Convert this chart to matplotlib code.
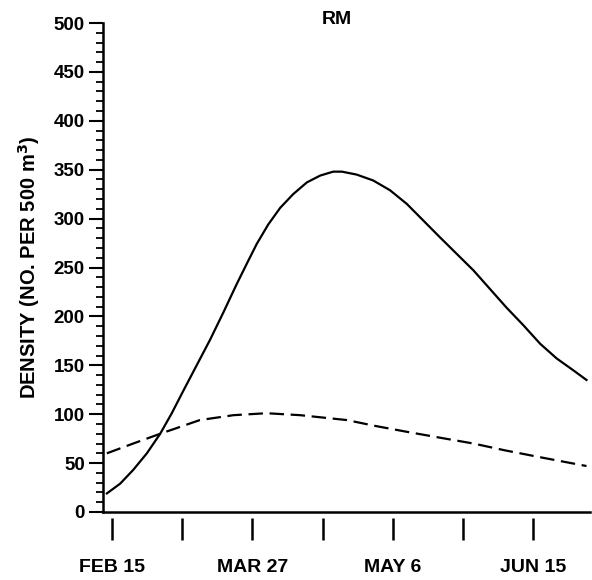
import matplotlib
matplotlib.use("Agg")
import matplotlib.pyplot as plt
from matplotlib.ticker import MultipleLocator, FixedLocator

plt.rcParams['font.family'] = ['Liberation Sans', 'DejaVu Sans']
plt.rcParams['font.weight'] = 'bold'

# days after Feb 15
solid_day = [-1.5, 2.3, 6, 9.9, 13.7, 17, 20.3, 24.1, 27.9, 31.7, 35.5, 38.4,
             41.2, 44.5, 47.9, 51.6, 55.5, 59.3, 63, 65.5, 69.7, 74.4, 79.2,
             84, 88.7, 93.4, 98.2, 103, 107.7, 112.4, 117.2, 122, 126.7,
             131.4, 135.2]
solid_val = [19, 29, 43, 60, 80, 101, 124, 150, 176, 204, 233, 254,
             274, 294, 311, 325, 337, 344, 348, 348, 345, 339, 329,
             315, 298, 281, 264, 247, 228, 209, 191, 172, 157,
             145, 135]

dash_day = [-1.5, 6, 13.7, 25, 34.6, 44, 53.6, 66.9, 75, 84, 93.4, 103, 112,
            122, 135.2]
dash_val = [60, 70, 80, 94, 99, 101, 99, 94, 88, 82, 76, 70, 63, 56, 47]

tick_days = [0, 20, 40, 60, 80, 100, 120]
tick_labels = ['FEB 15', '', 'MAR 27', '', 'MAY 6', '', 'JUN 15']

fig = plt.figure(figsize=(5.92, 5.80), dpi=100)
ax = fig.add_axes([103 / 592, 68 / 580, 487 / 592, 489 / 580])

ax.plot(solid_day, solid_val, color='black', lw=1.6)
ax.plot(dash_day, dash_val, color='black', lw=1.6, dashes=(6.5, 3))

ax.set_xlim(-2.6, 136.2)
ax.set_ylim(0, 500)

for s in ['top', 'right']:
    ax.spines[s].set_visible(False)
ax.spines['left'].set_linewidth(1.8)
ax.spines['bottom'].set_position(('outward', 4.5))
ax.spines['bottom'].set_visible(False)
ax.axhline(0, color='black', lw=1.8, clip_on=False)

ax.yaxis.set_major_locator(MultipleLocator(50))
ax.yaxis.set_minor_locator(MultipleLocator(10))
ax.tick_params(axis='y', which='major', direction='out', length=10, width=1.5,
               pad=3, labelsize=13.5)
ax.tick_params(axis='y', which='minor', direction='out', length=5, width=1.3)

ax.xaxis.set_major_locator(FixedLocator(tick_days))
ax.set_xticklabels(tick_labels)
ax.tick_params(axis='x', which='major', direction='out', length=16, width=1.8,
               pad=13, labelsize=14)

ax.set_ylabel('DENSITY (NO. PER 500 m$^\\mathbf{3}$)', fontsize=14.5,
              fontweight='bold')
ax.yaxis.set_label_coords(-0.125, 0.5)

fig.text(337 / 592, 1 - 20 / 580, 'RM', ha='center', va='center',
         fontsize=14)

fig.savefig('out.png', dpi=100)
